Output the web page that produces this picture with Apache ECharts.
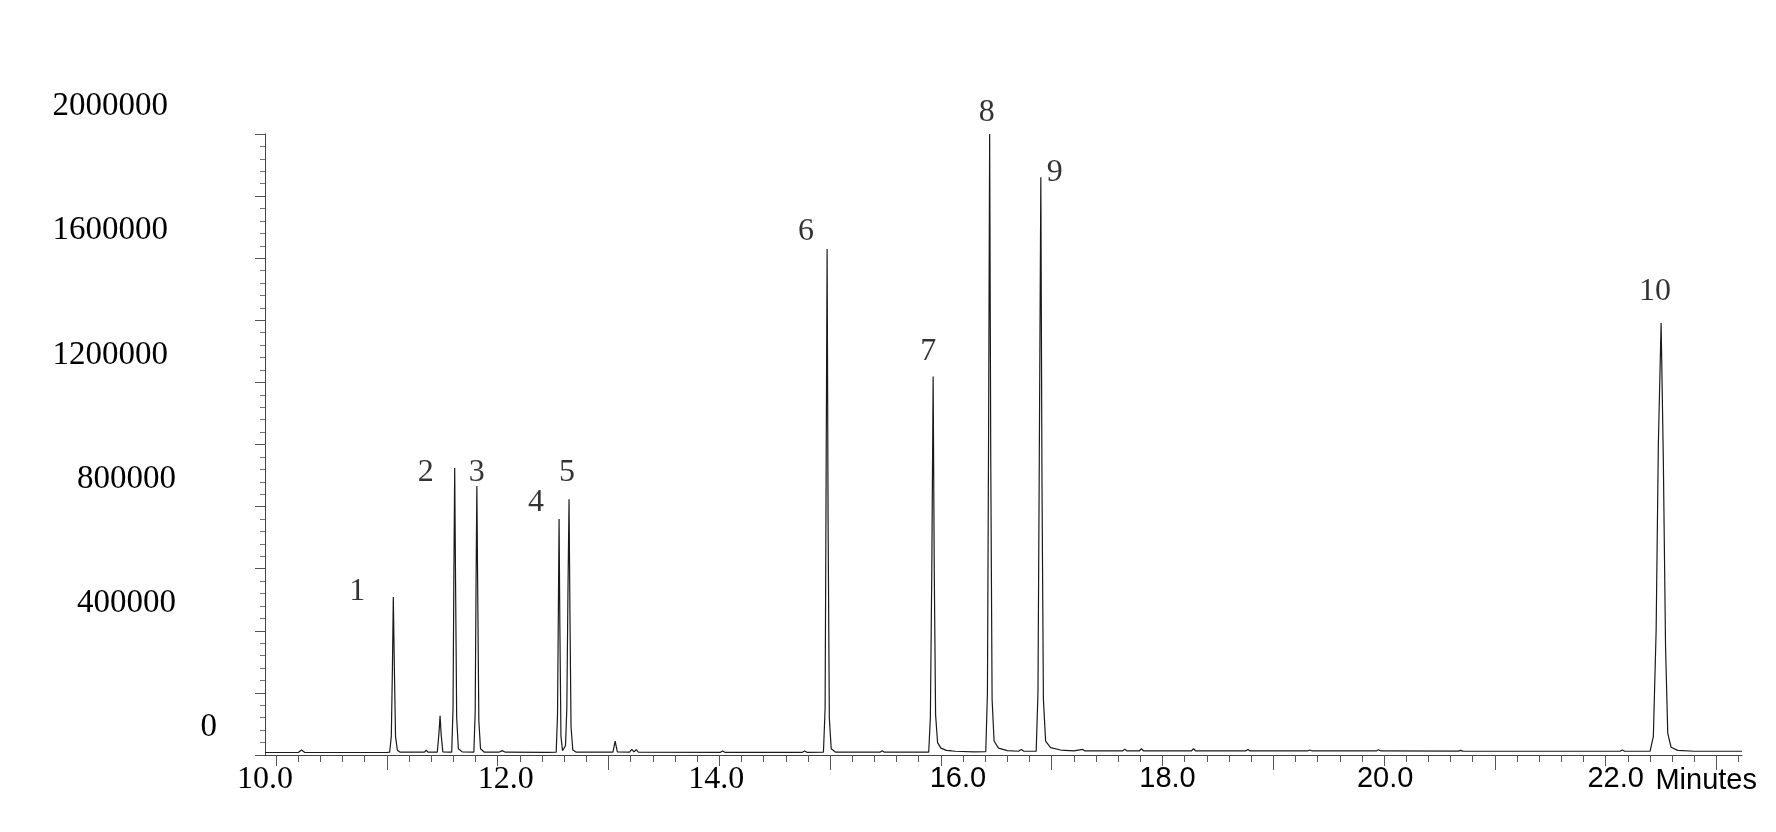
<!DOCTYPE html>
<html>
<head>
<meta charset="utf-8">
<title>Chromatogram</title>
<script src="https://cdn.jsdelivr.net/npm/echarts@6/dist/echarts.min.js"></script>
<style>
  html, body { margin: 0; padding: 0; background: #fff; }
  #myChart { width: 1776px; height: 832px; }
</style>
</head>
<body>
<div id="myChart"></div>
<script>
  // chromatogram trace, [retention time (min), signal]
  var trace = [
    [9.90, 8000], [10.20, 8000], [10.23, 16000], [10.26, 8000],
    [11.00, 8000], [11.025, 9000],
    // peak 1
    [11.040, 60000], [11.050, 280000], [11.058, 509000], [11.068, 270000], [11.078, 60000], [11.095, 15000], [11.12, 9000],
    [11.22, 9000], [11.235, 15000], [11.25, 9000], [11.34, 9000], [11.355, 16000], [11.37, 9000],
    // small peak
    [11.455, 9000], [11.47, 70000], [11.48, 126000], [11.49, 65000], [11.505, 10000], [11.56, 9000],
    // peak 2
    [11.585, 9000], [11.597, 150000], [11.605, 600000], [11.612, 924000], [11.620, 550000], [11.630, 120000], [11.645, 20000], [11.68, 10000],
    // peak 3
    [11.785, 9000], [11.797, 140000], [11.805, 560000], [11.812, 866000], [11.820, 520000], [11.830, 110000], [11.845, 20000], [11.88, 9000],
    [12.01, 9000], [12.04, 14000], [12.07, 9000], [12.45, 8500],
    // peak 4
    [12.528, 9000], [12.540, 130000], [12.548, 480000], [12.554, 760000], [12.561, 420000], [12.571, 60000], [12.585, 14000], [12.598, 11000],
    // peak 5
    [12.612, 30000], [12.624, 150000], [12.634, 520000], [12.644, 824000], [12.652, 460000], [12.662, 90000], [12.678, 16000], [12.71, 9000],
    [13.04, 9000], [13.06, 45000], [13.08, 10000], [13.19, 9000], [13.21, 18000], [13.23, 10000], [13.25, 17000], [13.27, 9000],
    [14.01, 8500], [14.03, 13000], [14.05, 8500], [14.75, 8500], [14.77, 13000], [14.79, 8500],
    // peak 6
    [14.94, 9000], [14.955, 150000], [14.963, 800000], [14.973, 1630000], [14.982, 750000], [14.993, 120000], [15.01, 20000], [15.05, 9000],
    [15.45, 9000], [15.47, 14000], [15.49, 9000],
    // peak 7
    [15.89, 9000], [15.905, 120000], [15.918, 600000], [15.930, 1219000], [15.940, 600000], [15.952, 130000], [15.970, 40000], [16.00, 22000],
    [16.05, 15000], [16.10, 13000], [16.115, 19000], [16.13, 12000], [16.30, 10000],
    // peak 8
    [16.405, 11000], [16.420, 200000], [16.430, 1000000], [16.440, 2000000], [16.450, 950000], [16.462, 180000], [16.480, 45000], [16.52, 22000],
    [16.60, 14000], [16.70, 12000], [16.725, 18000], [16.75, 12000],
    // peak 9
    [16.86, 12000], [16.876, 200000], [16.888, 950000], [16.902, 1861000], [16.912, 900000], [16.925, 180000], [16.945, 45000], [16.99, 24000],
    [17.08, 16000], [17.20, 13000], [17.28, 18000], [17.30, 13000],
    [17.64, 13000], [17.66, 19000], [17.68, 13000], [17.79, 13000], [17.81, 20000], [17.83, 13000],
    [18.26, 13000], [18.28, 20000], [18.30, 13000], [18.75, 13000], [18.77, 18000], [18.79, 13000],
    [19.31, 13000], [19.33, 16000], [19.35, 13000], [19.93, 13000], [19.95, 17000], [19.97, 13000],
    [20.67, 12500], [20.69, 15000], [20.71, 12500], [21.40, 12000],
    [22.13, 12000], [22.15, 16000], [22.17, 12000],
    // peak 10
    [22.40, 12000], [22.43, 60000], [22.455, 400000], [22.475, 1000000], [22.50, 1391000], [22.52, 950000], [22.54, 350000], [22.56, 70000],
    [22.59, 25000], [22.65, 15000], [22.80, 12000], [23.23, 12000]
  ];

  // peak numbers and apex positions
  var peakNames = ['1', '2', '3', '4', '5', '6', '7', '8', '9', '10'];
  var peakTimes = [11.058, 11.612, 11.812, 12.554, 12.644, 14.973, 15.930, 16.440, 16.902, 22.50];
  var peakHeights = [509000, 924000, 866000, 760000, 824000, 1630000, 1219000, 2000000, 1861000, 1391000];

  // tick labels
  var xLabelValues = [10, 12, 14, 16, 18, 20, 22];
  var yLabelValues = [0, 400000, 800000, 1200000, 1600000, 2000000];

  // 刻度位置
  var minorTickValues = [];
  for (var t = 100; t <= 232; t += 2) minorTickValues.push(t / 10);
  var evenTickValues = [10, 12, 14, 16, 18, 20, 22];
  var oddTickValues = [11, 13, 15, 17, 19, 21, 23];

  // label offsets from the apex (px)
  var peakLabelOffset = [[-36, -5], [-29, 4], [0, -14], [-23, -16], [-2, -27], [-21, -17], [-5, -25], [-3, -21], [14, -5], [-6, -32]];
  // x tick labels sit a little off their ticks in the original (px)
  var xLabelShift = { 10: -11, 12: 8, 14: -3, 16: 17, 18: 5, 20: 1, 22: 10 };

  var serif = '"Liberation Serif", "Times New Roman", serif';
  var sans = '"Liberation Sans", Arial, sans-serif';

  var myChart = echarts.init(document.getElementById('myChart'));

  var peakLabelData = peakNames.map(function (name, i) {
    return {
      name: name,
      value: [peakTimes[i], peakHeights[i]],
      label: { offset: peakLabelOffset[i] }
    };
  });

  // rich styles for x labels: serif for 10-14, sans for 16-22, shifted per label
  var xRich = {};
  xLabelValues.forEach(function (v) {
    var d = xLabelShift[v] || 0;
    xRich['x' + v] = {
      fontFamily: v <= 14 ? serif : sans,
      fontSize: v <= 14 ? 32 : 29,
      color: '#000',
      padding: d >= 0 ? [0, 0, 0, 2 * d] : [0, -2 * d, 0, 0]
    };
  });

  var baseX = {
    type: 'value',
    min: 9.9,
    max: 23.23,
    position: 'bottom',
    splitLine: { show: false },
    axisLine: { show: false },
    axisLabel: { show: false },
    axisTick: { show: true, lineStyle: { color: '#555', width: 1 } }
  };

  var option = {
    animation: false,
    textStyle: { fontFamily: serif },
    grid: { left: 265, right: 34, top: 134, bottom: 77 },
    xAxis: [
      {
        type: 'value',
        min: 9.9,
        max: 23.23,
        position: 'bottom',
        splitLine: { show: false },
        axisLine: { show: true, onZero: false, lineStyle: { color: '#444', width: 1 } },
        axisTick: { show: true, length: 7, customValues: minorTickValues, lineStyle: { color: '#555', width: 1 } },
        axisLabel: {
          customValues: xLabelValues,
          margin: 9,
          color: '#000',
          formatter: function (v) {
            return '{x' + Math.round(v) + '|' + v.toFixed(1) + '}';
          },
          rich: xRich
        },
        name: 'Minutes',
        nameLocation: 'end',
        nameGap: 15,
        nameTextStyle: {
          fontFamily: sans, fontSize: 29, color: '#000',
          align: 'right', verticalAlign: 'top', padding: [11, 0, 0, 0]
        }
      },
      Object.assign({}, baseX, { axisTick: { show: true, length: 11, customValues: evenTickValues, lineStyle: { color: '#555' } } }),
      Object.assign({}, baseX, { axisTick: { show: true, length: 15, customValues: oddTickValues, lineStyle: { color: '#555' } } })
    ],
    yAxis: {
      type: 'value',
      min: 0,
      max: 2000000,
      interval: 200000,
      splitLine: { show: false },
      axisLine: { show: true, lineStyle: { color: '#444', width: 1 } },
      axisTick: { show: true, length: 10, lineStyle: { color: '#555' } },
      minorTick: { show: true, splitNumber: 5, length: 5, lineStyle: { color: '#777' } },
      axisLabel: {
        customValues: yLabelValues,
        margin: 48,
        padding: [0, 0, 55, 0],
        formatter: function (v) {
          if (v === 0) return '{z|0}';
          return (v >= 1000000 ? '{b|' : '{m|') + v + '}';
        },
        rich: {
          z: { fontFamily: serif, fontSize: 33, color: '#000' },
          m: { fontFamily: serif, fontSize: 33, color: '#000', padding: [0, 41, 0, 0] },
          b: { fontFamily: serif, fontSize: 33, color: '#000', padding: [0, 49, 0, 0] }
        }
      }
    },
    series: [
      {
        name: 'signal',
        type: 'line',
        data: trace,
        showSymbol: false,
        smooth: false,
        silent: true,
        lineStyle: { color: '#1a1a1a', width: 1.2 }
      },
      {
        name: 'peaks',
        type: 'scatter',
        data: peakLabelData,
        symbolSize: 0,
        silent: true,
        z: 5,
        label: {
          show: true,
          position: 'inside',
          formatter: '{b}',
          fontFamily: serif,
          fontSize: 32,
          color: '#000'
        }
      }
    ]
  };

  myChart.setOption(option, true);
</script>
</body>
</html>
